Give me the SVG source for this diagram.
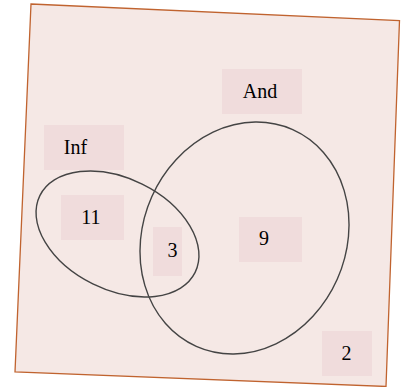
<svg xmlns="http://www.w3.org/2000/svg" width="406" height="387" viewBox="0 0 406 387">
<style>
.lbl{fill:#f0dcdc}
.t{font-family:"Liberation Serif","Times New Roman",serif;font-size:20px;fill:#000;text-anchor:middle}
.set{fill:none;stroke:#444;stroke-width:1.4}
</style>
<rect width="406" height="387" fill="#fff"/>
<g id="universe">
<polygon points="31,4 399.5,20.5 386,386.5 15,372" fill="#f5e8e5" stroke="#c0632f" stroke-width="1.3"/>
</g>
<g id="set-inf"><ellipse class="set" cx="117.5" cy="234" rx="86.6" ry="55.7" transform="rotate(26.3 117.5 234)"/></g>
<g id="set-and"><ellipse class="set" cx="244.5" cy="238" rx="101.5" ry="118.6" transform="rotate(24 244.5 238)"/></g>
<g id="label-and"><rect class="lbl" x="222" y="69" width="80" height="45"/><text class="t" x="260" y="98">And</text></g>
<g id="label-inf"><rect class="lbl" x="44" y="125" width="80" height="45"/><text class="t" x="75.5" y="154">Inf</text></g>
<g id="count-11"><rect class="lbl" x="61" y="195" width="63" height="45"/><text class="t" x="91" y="224">11</text></g>
<g id="count-3"><rect class="lbl" x="153" y="227" width="29" height="49"/><text class="t" x="172.5" y="257">3</text></g>
<g id="count-9"><rect class="lbl" x="239" y="217" width="63" height="45"/><text class="t" x="264" y="245">9</text></g>
<g id="count-2"><rect class="lbl" x="322" y="331" width="50" height="45"/><text class="t" x="346.5" y="360">2</text></g>
</svg>
